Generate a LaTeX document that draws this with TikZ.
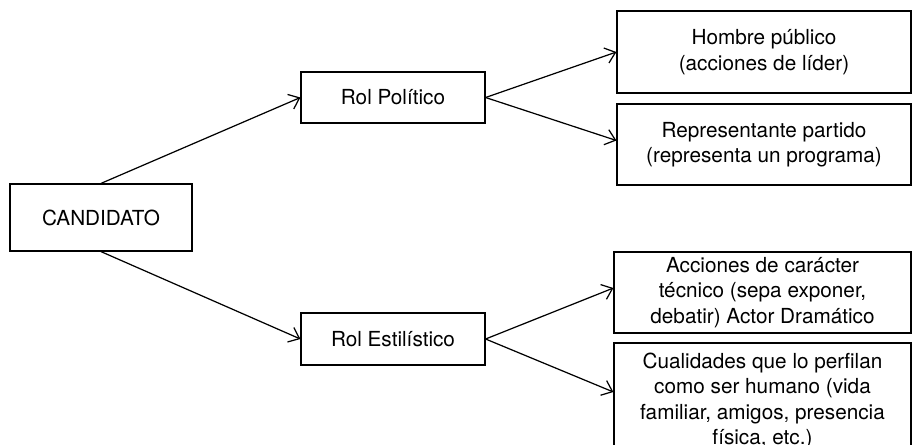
\documentclass[tikz,border=0pt]{standalone}
\usepackage{fontspec}
\setmainfont{TeX Gyre Heros}
\usetikzlibrary{arrows.meta}
\tikzset{
  caja/.style={draw, line width=0.7pt, inner sep=0pt, align=center,
    font=\fontsize{11.8}{14.4}\selectfont},
  flecha/.style={line width=0.7pt, -{Straight Barb[length=5.5pt,width=9pt]}}
}
\begin{document}
\begin{tikzpicture}[x=0.02cm, y=-0.02cm]
    \useasboundingbox (0, 0) rectangle (912, 444);
    \clip (0, 0) rectangle (912, 444);

        \node[caja, minimum width=3.64cm, minimum height=1.34cm] (cand) at(101, 217.5){CANDIDATO};

        \node[caja, minimum width=3.68cm, minimum height=1.02cm] (pol) at(393, 97.5){Rol Político};
        \node[caja, minimum width=3.68cm, minimum height=1.04cm] (est) at(393, 339){Rol Estilístico};

        \node[caja, minimum width=5.88cm, minimum height=1.64cm] (hom) at(764, 52){Hombre público\\(acciones de líder)};
        \node[caja, minimum width=5.88cm, minimum height=1.62cm] (rep) at(764, 144.5){Representante partido\\(representa un programa)};

        \node[caja, minimum width=5.94cm, minimum height=1.62cm] (acc) at(762.5, 292.5){Acciones de carácter\\técnico (sepa exponer,\\debatir) Actor Dramático};
        \node[caja, minimum width=5.94cm, minimum height=2.32cm] (cua) at(762.5, 401){Cualidades que lo perfilan\\como ser humano (vida\\familiar, amigos, presencia\\física, etc.)};

        % del candidato a los roles
        \draw[flecha] (cand.north) -- (pol.west);
        \draw[flecha] (cand.south) -- (est.west);

        % rol politico
        \draw[flecha] (pol.east) -- (hom.west);
        \draw[flecha] (pol.east) -- ([yshift=0.08cm]rep.west);

        % rol estilistico
        \draw[flecha] (est.east) -- ([yshift=0.09cm]acc.west);
        \draw[flecha] (est.east) -- ([yshift=0.18cm]cua.west);
    \end{tikzpicture}
\end{document}
